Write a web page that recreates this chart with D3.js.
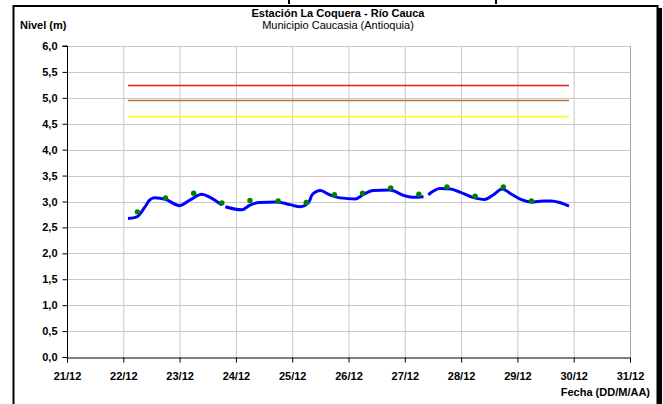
<!DOCTYPE html>
<html>
<head>
<meta charset="utf-8">
<script src="https://cdn.jsdelivr.net/npm/d3@7"></script>
<style>
  body { margin: 0; background: #fff; }
  text { font-family: "Liberation Sans", Arial, sans-serif; }
</style>
</head>
<body>
<svg id="chart" width="663" height="404"></svg>
<script>
// data
let levelTimes = [
  "22/12 02:00", "22/12 06:00", "22/12 09:00", "22/12 11:30", "22/12 13:30", "22/12 18:00",
  "23/12 00:00", "23/12 04:30", "23/12 09:30", "23/12 13:00", "23/12 18:00",
  "23/12 18:45",
  "23/12 19:30", "24/12 02:30", "24/12 06:00", "24/12 10:00", "24/12 17:30", "24/12 23:00",
  "25/12 03:30", "25/12 07:00", "25/12 08:30", "25/12 12:00", "25/12 16:00", "25/12 20:30",
  "26/12 03:00", "26/12 06:30", "26/12 10:30", "26/12 17:30", "27/12 00:00", "27/12 03:30",
  "27/12 08:00",
  "27/12 09:00",
  "27/12 10:00", "27/12 15:00", "27/12 19:30", "27/12 23:30", "28/12 05:00", "28/12 10:00",
  "28/12 13:30", "28/12 17:30", "28/12 21:30", "29/12 02:00", "29/12 06:00", "29/12 11:00",
  "29/12 14:30", "29/12 18:00", "29/12 22:00"
];
let levelValues = [
  2.67, 2.71, 2.88, 3.04, 3.07, 3.04,
  2.92, 3.03, 3.14, 3.08, 2.93,
  null,
  2.90, 2.84, 2.93, 2.98, 2.99, 2.94,
  2.90, 2.98, 3.13, 3.21, 3.13, 3.07,
  3.05, 3.14, 3.21, 3.22, 3.11, 3.08,
  3.09,
  null,
  3.13, 3.25, 3.24, 3.18, 3.08, 3.04,
  3.12, 3.24, 3.14, 3.03, 2.99, 3.01,
  3.01, 2.98, 2.91
];

let obsTimes = [
  "22/12 06:00", "22/12 18:00", "23/12 06:00", "23/12 18:00", "24/12 06:00",
  "24/12 18:00", "25/12 06:00", "25/12 18:00", "26/12 06:00", "26/12 18:00",
  "27/12 06:00", "27/12 18:00", "28/12 06:00", "28/12 18:00", "29/12 06:00"
];
let obsValues = [2.80, 3.07, 3.16, 2.97, 3.02, 3.01, 2.98, 3.13, 3.16, 3.26, 3.14, 3.28, 3.10, 3.28, 3.01];

// alert levels (red, orange, yellow)
let alertValues = [5.25, 4.95, 4.65];
let alertStart = "22/12 02:00";
let alertEnd = "29/12 22:00";

let xDomain = ["21/12 00:00", "31/12 00:00"];
let yTicks = [0, 0.5, 1, 1.5, 2, 2.5, 3, 3.5, 4, 4.5, 5, 5.5, 6];

let titleText = "Estación La Coquera - Río Cauca";
let subtitleText = "Municipio Caucasia (Antioquia)";
let yLabelText = "Nivel (m)";
let xLabelText = "Fecha (DD/M/AA)";

// styles
const alertColors = ["#e0201c", "#b8733a", "#ffff00"];
const lineColor = "#0000ff";
const dotColor = "#008000";
const gridColor = "#c8c8c8";

const parse = d3.timeParse("%d/%m %H:%M");
const fmtComma = d3.formatLocale({ decimal: ",", thousands: ".", grouping: [3], currency: ["", ""] }).format(".1f");

let margin = { left: 67, right: 33, top: 46, bottom: 47 };
let width = 663, height = 404;

let svg = d3.select("#chart");

// outer frame
svg.append("rect")
  .attr("x", 13.5).attr("y", 6)
  .attr("width", 644).attr("height", 410)
  .attr("fill", "none").attr("stroke", "#000").attr("stroke-width", 2);
svg.append("rect")
  .attr("x", 657).attr("y", 8)
  .attr("width", 5).attr("height", 396)
  .attr("fill", "#000");
// bits of a border above the frame
[288, 495].forEach(function (x) {
  svg.append("rect").attr("x", x).attr("y", 0).attr("width", 2).attr("height", 4).attr("fill", "#000");
});

let x = d3.scaleTime()
  .domain(xDomain.map(parse))
  .range([margin.left, width - margin.right]);
let y = d3.scaleLinear()
  .domain([0, 6])
  .range([height - margin.bottom, margin.top]);

let g = svg.append("g");

// gridlines
let dayTicks = x.ticks(d3.timeDay.every(1));
g.selectAll(".vgrid")
  .data(dayTicks.slice(1))
  .join("line")
  .attr("x1", d => x(d) + 0.5).attr("x2", d => x(d) + 0.5)
  .attr("y1", y(6)).attr("y2", y(0))
  .attr("stroke", gridColor);
g.selectAll(".hgrid")
  .data(yTicks.slice(1))
  .join("line")
  .attr("x1", x.range()[0]).attr("x2", x.range()[1])
  .attr("y1", d => Math.round(y(d)) + 0.5).attr("y2", d => Math.round(y(d)) + 0.5)
  .attr("stroke", gridColor);
// right border
g.append("line")
  .attr("x1", x.range()[1] + 0.5).attr("x2", x.range()[1] + 0.5)
  .attr("y1", y(6)).attr("y2", y(0))
  .attr("stroke", "#a8a8a8");

// axes
let yAxis = d3.axisLeft(y).tickValues(yTicks).tickFormat(fmtComma).tickSize(5).tickPadding(5);
let xAxis = d3.axisBottom(x).ticks(d3.timeDay.every(1)).tickFormat(d3.timeFormat("%d/%m")).tickSize(5).tickPadding(10);

let yg = svg.append("g").attr("transform", `translate(${margin.left + 0.5},0)`).call(yAxis);
let xg = svg.append("g").attr("transform", `translate(0,${Math.round(y(0)) + 0.5})`).call(xAxis);
[yg, xg].forEach(function (ax) {
  ax.select(".domain").attr("stroke", "#000");
  ax.selectAll(".tick line").attr("stroke", "#000");
  ax.selectAll("text")
    .attr("font-size", 11)
    .attr("font-weight", "bold")
    .attr("fill", "#000");
});
yg.select(".domain").attr("d", `M-5,${y(6)}H0V${y(0)}`);

// alert lines
g.selectAll(".alert")
  .data(alertValues)
  .join("line")
  .attr("x1", x(parse(alertStart))).attr("x2", x(parse(alertEnd)))
  .attr("y1", d => Math.round(y(d)) + 0.5).attr("y2", d => Math.round(y(d)) + 0.5)
  .attr("stroke", (d, i) => alertColors[i])
  .attr("stroke-width", 1.6);

// level series
let levelData = levelTimes.map((t, i) => ({ t: parse(t), v: levelValues[i] }));
let line = d3.line()
  .defined(d => d.v != null)
  .x(d => x(d.t))
  .y(d => y(d.v))
  .curve(d3.curveMonotoneX);
g.append("path")
  .datum(levelData)
  .attr("d", line)
  .attr("fill", "none")
  .attr("stroke", lineColor)
  .attr("stroke-width", 3);

// observations
g.selectAll(".obs")
  .data(obsTimes.map((t, i) => ({ t: parse(t), v: obsValues[i] })))
  .join("circle")
  .attr("cx", d => x(d.t))
  .attr("cy", d => y(d.v))
  .attr("r", 2.7)
  .attr("fill", dotColor);

// texts
svg.append("text")
  .attr("x", 338).attr("y", 17)
  .attr("text-anchor", "middle")
  .attr("font-size", 11).attr("font-weight", "bold")
  .text(titleText);
svg.append("text")
  .attr("x", 338).attr("y", 29)
  .attr("text-anchor", "middle")
  .attr("font-size", 11)
  .text(subtitleText);
svg.append("text")
  .attr("x", 20).attr("y", 29)
  .attr("font-size", 11).attr("font-weight", "bold")
  .text(yLabelText);
svg.append("text")
  .attr("x", 650).attr("y", 396)
  .attr("text-anchor", "end")
  .attr("font-size", 11).attr("font-weight", "bold")
  .text(xLabelText);
</script>
</body>
</html>
